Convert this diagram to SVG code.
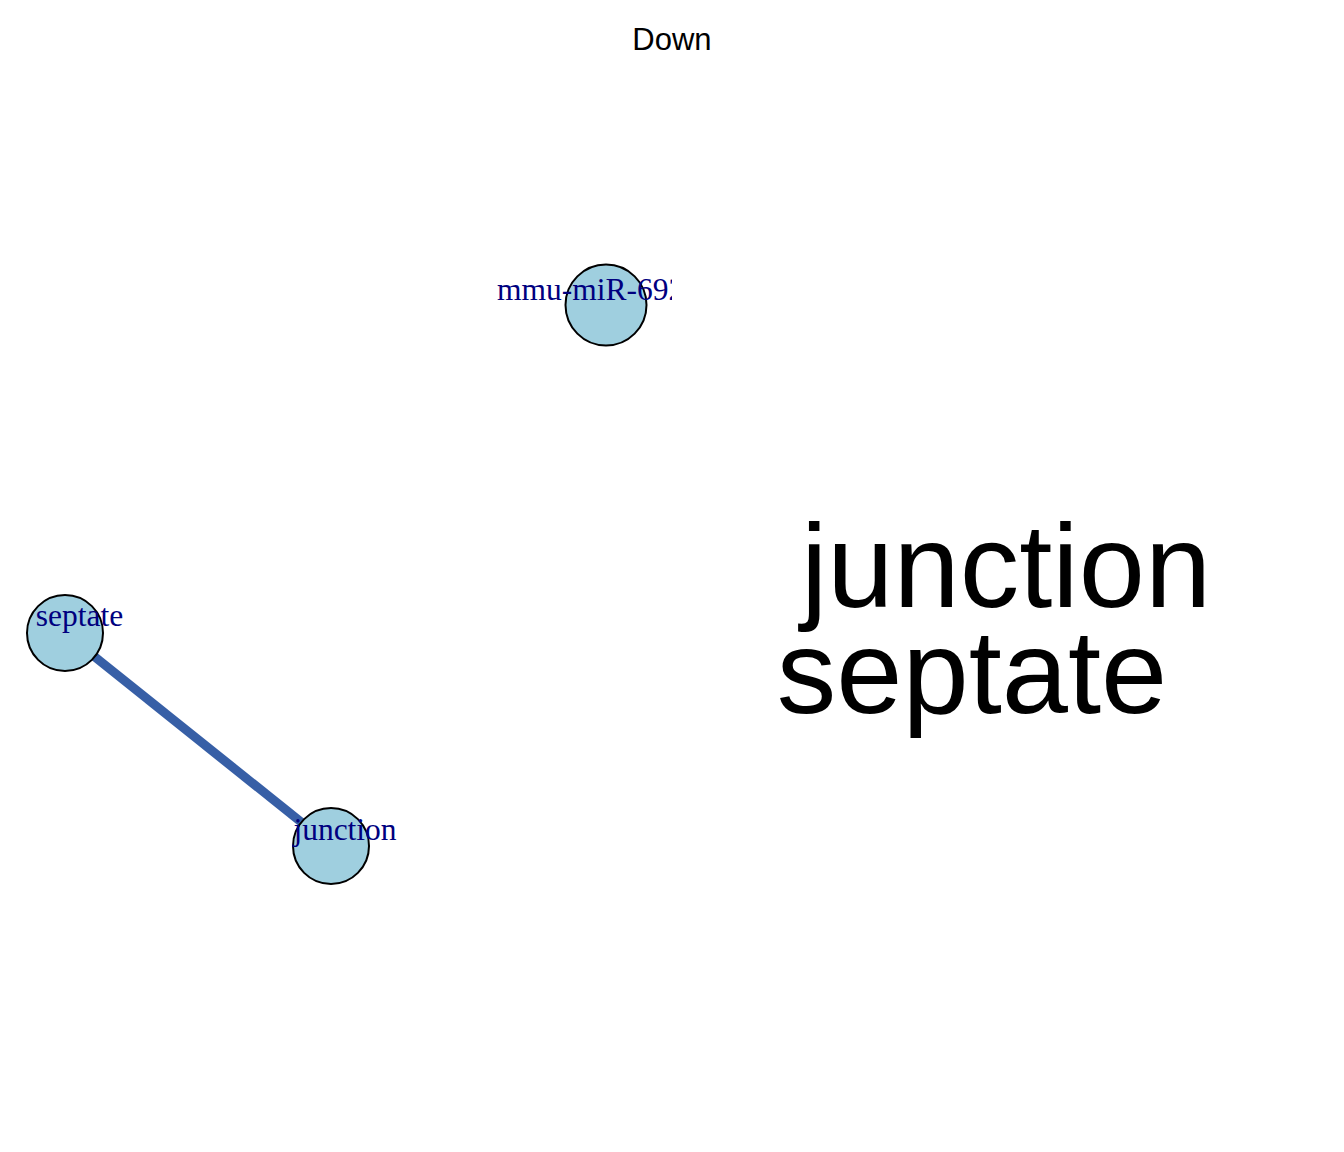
<svg xmlns="http://www.w3.org/2000/svg" width="1344" height="1152" viewBox="0 0 1344 1152">
<defs>
<style>
.node circle{fill:#9FCFDF;stroke:#000;stroke-width:2}
.node text{font-family:"Liberation Serif",serif;font-size:31.5px;fill:#00007F}
.cloud{font-family:"Liberation Sans",Arial,sans-serif;font-size:119px;fill:#000}
.title{font-family:"Liberation Sans",Arial,sans-serif;font-size:31px;fill:#000}
</style>
<clipPath id="plot"><rect x="0" y="0" width="672" height="1152"/></clipPath>
</defs>
<rect width="1344" height="1152" fill="#fff"/>
<text class="title" x="672" y="50" text-anchor="middle">Down</text>
<g clip-path="url(#plot)">
<g id="edges">
<line x1="65" y1="633" x2="331" y2="846" stroke="#375FA6" stroke-width="9"/>
</g>
<g id="node-mmu" class="node">
<circle cx="606" cy="305" r="40.5"/>
<text x="497" y="300">mmu-miR-692</text>
</g>
<g id="node-septate" class="node">
<circle cx="65" cy="633" r="38"/>
<text x="79.5" y="626" text-anchor="middle">septate</text>
</g>
<g id="node-junction" class="node">
<circle cx="331" cy="846" r="38"/>
<text x="345" y="840" text-anchor="middle">junction</text>
</g>
</g>
<g id="wordcloud">
<text class="cloud" x="1006" y="607" text-anchor="middle">junction</text>
<text class="cloud" x="972" y="713" text-anchor="middle">septate</text>
</g>
</svg>
